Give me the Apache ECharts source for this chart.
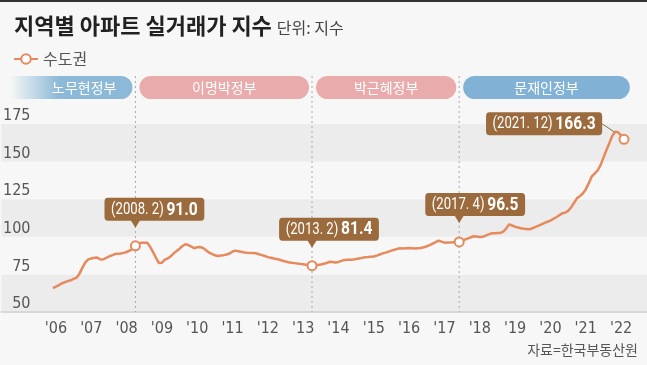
<!DOCTYPE html>
<html><head><meta charset="utf-8">
<script src="https://cdn.jsdelivr.net/npm/echarts@6/dist/echarts.min.js"></script>
<style>html,body{margin:0;padding:0;background:#f7f7f7}#c{width:647px;height:365px}</style>
</head><body><div id="c"></div>
<script>
// ---- data ----
const startYear = 2006;
const yearTicks = ["'06","'07","'08","'09","'10","'11","'12","'13","'14","'15","'16","'17","'18","'19","'20","'21","'22"];
// monthly index, 2006.1 ~ 2022.3
const values = [
  65.8, 66.8, 67.9, 69.0, 69.8, 70.5, 71.1, 72.0, 72.8, 75.5, 79.5, 83.0,
  85.0, 85.6, 86.1, 86.2, 85.0, 84.9, 85.9, 86.9, 87.7, 88.5, 88.7, 88.9,
  89.3, 89.9, 90.8, 92.0, 94.0, 95.4, 96.1, 96.1, 96.0, 93.4, 89.8, 86.0,
  82.5, 82.8, 84.8, 85.6, 87.0, 89.0, 90.5, 92.1, 93.9, 95.0, 94.5, 93.5,
  92.4, 93.1, 93.2, 92.5, 91.0, 89.5, 88.6, 87.7, 87.2, 87.5, 87.8, 88.2,
  88.9, 90.2, 90.8, 90.4, 90.0, 89.6, 89.4, 89.3, 89.2, 89.0, 88.4, 87.8,
  87.2, 86.5, 86.1, 85.6, 85.2, 84.7, 84.1, 83.6, 83.1, 82.8, 82.5, 82.2,
  82.0, 81.7, 81.4, 81.1, 80.8, 81.0, 81.3, 81.6, 82.1, 82.6, 83.4, 83.2,
  82.9, 83.3, 84.0, 84.6, 84.7, 84.8, 84.9, 85.2, 85.6, 86.0, 86.4, 86.5,
  86.7, 86.9, 87.5, 88.2, 89.0, 89.5, 90.1, 90.8, 91.4, 92.0, 92.4, 92.3,
  92.4, 92.5, 92.4, 92.3, 92.4, 92.5, 93.0, 93.7, 94.5, 95.5, 96.5, 97.4,
  96.8, 96.1, 96.2, 96.2, 96.3, 96.4, 96.6, 97.3, 98.2, 99.0, 99.7, 100.4,
  100.2, 99.9, 100.0, 100.8, 101.6, 102.3, 102.4, 102.5, 102.6, 103.5, 105.6, 108.3,
  107.5, 106.7, 106.2, 105.7, 105.4, 105.2, 105.0, 105.8, 106.6, 107.4, 108.3, 109.2,
  110.0, 110.8, 111.9, 113.0, 114.3, 115.6, 116.0, 117.2, 119.5, 122.5, 125.6, 127.0,
  128.8, 131.5, 135.5, 140.0, 142.0, 144.0, 147.5, 152.5, 157.5, 162.2, 167.0, 169.8,
  169.5, 167.5, 164.8
];
const yMin = 50, yMax = 175, yStep = 25;
const markerIdx = [28, 88, 138, 194];
const calloutIdx = [28, 88, 138, 191];
const calloutDates = ['(2008. 2)', '(2013. 2)', '(2017. 4)', '(2021. 12)'];
const calloutValues = ['91.0', '81.4', '96.5', '166.3'];
const periodNames = ['노무현정부', '이명박정부', '박근혜정부', '문재인정부'];
const periodStart = [0, 28, 88, 138];
const periodEnd = [28, 88, 138, 197];

// ---- style ----
const KR = "'Noto Sans CJK KR', 'Noto Sans', sans-serif";
const NUM = "'Liberation Sans Narrow', 'DejaVu Sans Condensed', 'Roboto', sans-serif";
const CAL = "Roboto, 'Noto Sans', sans-serif";
const LINE = '#e68a5d';
const BROWN = '#9c6b3d';
const periodColors = ['#8cb9d7', '#e9abab', '#e9abab', '#82b1d6'];
const calloutLayout = [
  {type: 'above', dx: 19, gap: 25},
  {type: 'above', dx: 17, gap: 25},
  {type: 'above', dx: 16, gap: 26},
  {type: 'left', dx: -13, dy: -8}
];
const PILL_TOP = 76, PILL_H = 23;
const TEXT_SX = 0.82;

const months = values.map((v, i) => (startYear + Math.floor(i / 12)) + '.' + (i % 12 + 1));

const chart = echarts.init(document.getElementById('c'), null, {renderer: 'canvas'});
chart.setOption({
  animation: false,
  backgroundColor: '#f7f7f7',
  title: [
    {left: 9, top: 6,
     text: '{a|지역별 아파트 실거래가 지수} {b|단위: 지수}',
     textStyle: {rich: {
       a: {fontSize: 22, fontWeight: 'bold', color: '#222', fontFamily: KR, lineHeight: 30},
       b: {fontSize: 16, fontWeight: 'normal', color: '#444', fontFamily: KR, lineHeight: 30, padding: [3, 0, 0, 0]}
     }}},
    {right: 4, bottom: 3, text: '자료=한국부동산원',
     textStyle: {fontSize: 14, color: '#555', fontWeight: 'normal', fontFamily: KR}}
  ],
  legend: {left: 8, top: 46, itemWidth: 24, itemHeight: 12, itemGap: 6, data: ['수도권'],
    textStyle: {fontSize: 16, color: '#555', fontFamily: KR}},
  graphic: [{type: 'rect', left: 0, top: 0, shape: {width: 647, height: 2}, style: {fill: '#333'}}],
  grid: [
    {left: 0, right: 0, top: 124, bottom: 53},
    {left: 53, right: 23, top: 124, bottom: 53}
  ],
  xAxis: [
    {gridIndex: 0, type: 'value', min: 0, max: 1,
     axisLine: {show: true, lineStyle: {color: '#d8d8d8', width: 2}},
     axisTick: {show: false}, axisLabel: {show: false}, splitLine: {show: false}},
    {gridIndex: 1, type: 'category', data: months, boundaryGap: false,
     axisLine: {show: false}, axisTick: {show: false},
     axisLabel: {interval: (i) => i % 12 === 1,
       formatter: (v, i) => yearTicks[Math.floor(i / 12)],
       margin: 9, color: '#555', fontSize: 16, fontFamily: NUM}}
  ],
  yAxis: [
    {gridIndex: 0, type: 'value', min: yMin, max: yMax, interval: yStep,
     axisLine: {show: false}, axisTick: {show: false}, splitLine: {show: false},
     splitArea: {show: true, areaStyle: {color: ['#ececec', '#f7f7f7']}},
     axisLabel: {inside: true, align: 'right', margin: 29, verticalAlign: 'bottom',
       color: '#555', fontSize: 16, fontFamily: NUM}},
    {gridIndex: 1, type: 'value', min: yMin, max: yMax, interval: yStep, show: false}
  ],
  series: [
    { // period pills
      type: 'custom', xAxisIndex: 1, yAxisIndex: 1, z: 2, silent: true,
      data: periodNames.map((n, k) => [periodStart[k], periodEnd[k]]),
      renderItem: (params, api) => {
        const k = params.dataIndex;
        const fade = k === 0;
        let x1 = api.coord([api.value(0), yMin])[0] + 4;
        const x2 = api.coord([api.value(1), yMin])[0] - 3;
        if (fade) x1 = 10;
        const fill = fade ? new echarts.graphic.LinearGradient(0, 0, 1, 0, [
          {offset: 0, color: 'rgba(140,185,215,0)'},
          {offset: 0.4, color: periodColors[k]},
          {offset: 1, color: periodColors[k]}]) : periodColors[k];
        const r = PILL_H / 2;
        const tx = fade ? (x1 + 26 + x2) / 2 : (x1 + x2) / 2;
        return {type: 'group', children: [
          {type: 'rect', shape: {x: x1, y: PILL_TOP, width: x2 - x1, height: PILL_H,
             r: fade ? [0, r, r, 0] : r}, style: {fill}},
          {type: 'text', x: tx, y: PILL_TOP + PILL_H / 2,
           style: {text: periodNames[k], fill: '#fff', fontSize: 14, fontFamily: KR,
             align: 'center', verticalAlign: 'middle'}}
        ]};
      }
    },
    { // dashed guides
      type: 'custom', xAxisIndex: 1, yAxisIndex: 1, z: 2, silent: true,
      data: periodStart.slice(1).map(i => [i]),
      renderItem: (params, api) => {
        const b = api.coord([api.value(0), yMin]);
        return {type: 'line', shape: {x1: b[0], y1: PILL_TOP, x2: b[0], y2: b[1]},
          style: {stroke: '#a8a8a8', lineWidth: 1, lineDash: [2, 3]}};
      }
    },
    {
      name: '수도권', type: 'line', xAxisIndex: 1, yAxisIndex: 1, data: values,
      showSymbol: false, symbol: 'emptyCircle', symbolSize: 8, z: 3,
      lineStyle: {color: LINE, width: 2.5}, itemStyle: {color: LINE}
    },
    {
      type: 'scatter', xAxisIndex: 1, yAxisIndex: 1, z: 4, silent: true,
      data: markerIdx.map(i => [i, values[i]]), symbolSize: 9,
      itemStyle: {color: '#fff', borderColor: LINE, borderWidth: 2, opacity: 1}
    },
    { // callouts
      type: 'custom', xAxisIndex: 1, yAxisIndex: 1, z: 6, silent: true,
      data: calloutIdx.map((i, k) => [i, values[i], k]),
      renderItem: (params, api) => {
        const k = api.value(2);
        const p = api.coord([api.value(0), api.value(1)]);
        const L = calloutLayout[k];
        const txt = '{d|' + calloutDates[k] + '} {v|' + calloutValues[k] + '}';
        const base = {fill: '#fff', backgroundColor: BROWN, borderRadius: 4, padding: [2, 8, 1, 8],
          rich: {d: {fontSize: 16, fontFamily: CAL, color: '#fff', lineHeight: 20},
                 v: {fontSize: 19, fontWeight: 'bold', fontFamily: CAL, color: '#fff', lineHeight: 20}}};
        if (L.type === 'above') {
          const bb = p[1] - L.gap;
          return {type: 'group', children: [
            {type: 'polygon', shape: {points: [[p[0] - 5, bb - 1], [p[0] + 5, bb - 1], [p[0], bb + 7]]},
             style: {fill: BROWN}},
            {type: 'text', x: p[0] + L.dx, y: bb, scaleX: TEXT_SX,
             style: Object.assign({text: txt, align: 'center', verticalAlign: 'bottom'}, base)}
          ]};
        }
        const ex = p[0] + L.dx, ey = p[1] + L.dy;
        return {type: 'group', children: [
          {type: 'line', shape: {x1: ex, y1: ey, x2: p[0] - 1, y2: p[1]},
           style: {stroke: '#8a6a50', lineWidth: 1}},
          {type: 'text', x: ex, y: ey, scaleX: TEXT_SX,
           style: Object.assign({text: txt, align: 'right', verticalAlign: 'middle'}, base)}
        ]};
      }
    }
  ]
});
</script></body></html>
